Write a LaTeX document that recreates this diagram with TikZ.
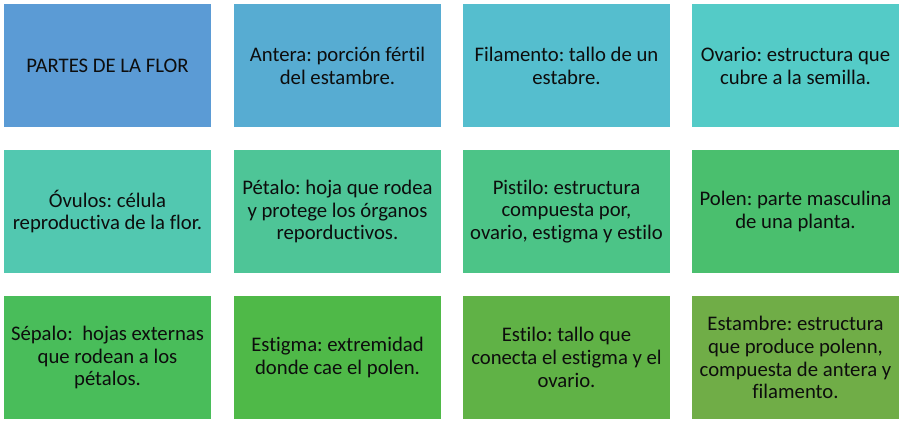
\documentclass[tikz,border=0pt]{standalone}
\usepackage{fontspec}
\setmainfont{Carlito}[Ligatures=NoCommon]
\usepackage{tikz}
\usetikzlibrary{shapes}
\frenchspacing

\definecolor{c11}{HTML}{5B9BD5}
\definecolor{c12}{HTML}{57ACD2}
\definecolor{c13}{HTML}{55BECE}
\definecolor{c14}{HTML}{54CBC7}
\definecolor{c21}{HTML}{52C8B0}
\definecolor{c22}{HTML}{4EC597}
\definecolor{c23}{HTML}{4CC487}
\definecolor{c24}{HTML}{4ABF6E}
\definecolor{c31}{HTML}{49BD5A}
\definecolor{c32}{HTML}{4FB948}
\definecolor{c33}{HTML}{60B246}
\definecolor{c34}{HTML}{70AD47}

\begin{document}
\begin{tikzpicture}[parte/.style={rectangle,minimum width=207bp,minimum height=123bp,inner sep=0pt,align=center,font=\fontsize{20.8}{23}\selectfont,text=black!95}]

\useasboundingbox (0bp,0bp) rectangle (905bp,-423bp);

\node (Flor) at (107.5bp,-65.5bp)[parte,fill=c11] {PARTES DE LA FLOR};
\node (Antera) at (337.5bp,-65.5bp)[parte,fill=c12] {Antera: porción fértil\\del estambre.};
\node (Filamento) at (566.5bp,-65.5bp)[parte,fill=c13] {Filamento: tallo de un\\estabre.};
\node (Ovario) at (795.5bp,-65.5bp)[parte,fill=c14] {Ovario: estructura que\\cubre a la semilla.};

\node (Ovulos) at (107.5bp,-211.5bp)[parte,fill=c21] {Óvulos: célula\\reproductiva de la flor.};
\node (Petalo) at (337.5bp,-211.5bp)[parte,fill=c22] {Pétalo: hoja que rodea\\y protege los órganos\\reporductivos.};
\node (Pistilo) at (566.5bp,-211.5bp)[parte,fill=c23] {Pistilo: estructura\\compuesta por,\\ovario, estigma y estilo};
\node (Polen) at (795.5bp,-211.5bp)[parte,fill=c24] {Polen: parte masculina\\de una planta.};

\node (Sepalo) at (107.5bp,-357.5bp)[parte,fill=c31] {Sépalo: \ hojas externas\\que rodean a los\\pétalos.};
\node (Estigma) at (337.5bp,-357.5bp)[parte,fill=c32] {Estigma: extremidad\\donde cae el polen.};
\node (Estilo) at (566.5bp,-357.5bp)[parte,fill=c33] {Estilo: tallo que\\conecta el estigma y el\\ovario.};
\node (Estambre) at (795.5bp,-357.5bp)[parte,fill=c34] {Estambre: estructura\\que produce polenn,\\compuesta de antera y\\filamento.};
\end{tikzpicture}
\end{document}
